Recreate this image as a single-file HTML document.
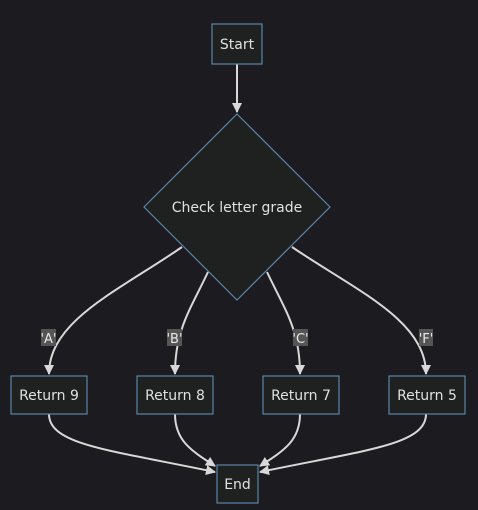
<!DOCTYPE html>
<html><head><style>
html,body{margin:0;padding:0;background:#1c1c20;}
svg{display:block;}
text{font-family:"DejaVu Sans","Liberation Sans",sans-serif;font-size:14px;fill:#e0e0e0;}
.n{fill:#1f2120;stroke:#5b84a8;stroke-width:1.2;}
.e{fill:none;stroke:#d8d8d8;stroke-width:2;}
.lb{fill:#555;}
.lt{font-size:13px;fill:#e8e8e8;}
</style></head><body>
<svg width="478" height="510" viewBox="0 0 478 510">
<defs><marker id="a" markerWidth="10" markerHeight="10" refX="9" refY="5" orient="auto" markerUnits="userSpaceOnUse"><path d="M0,0 L10,5 L0,10 z" fill="#d8d8d8"/></marker></defs>
<path class="e" d="M237,64 L237,112" marker-end="url(#a)"/>
<path class="e" d="M182,247 C120,290 49,320 49,374" marker-end="url(#a)"/>
<path class="e" d="M208,272 C190,310 175,330 175,374" marker-end="url(#a)"/>
<path class="e" d="M267,272 C285,310 300,330 300,374" marker-end="url(#a)"/>
<path class="e" d="M292,247 C355,290 426,320 426,374" marker-end="url(#a)"/>
<path class="e" d="M49,414 C49,445 110,450 215,472" marker-end="url(#a)"/>
<path class="e" d="M175,414 C175,440 190,450 215,466" marker-end="url(#a)"/>
<path class="e" d="M300,414 C300,440 285,450 260,466" marker-end="url(#a)"/>
<path class="e" d="M426,414 C426,445 365,450 260,472" marker-end="url(#a)"/>
<rect class="n" x="212" y="24" width="50" height="40"/>
<text x="237" y="49" text-anchor="middle">Start</text>
<polygon class="n" points="237,114 330,207 237,300 144,207"/>
<text x="237" y="212" text-anchor="middle">Check letter grade</text>
<rect class="lb" x="41" y="329" width="15" height="17"/><text class="lt" x="48.5" y="343" text-anchor="middle">'A'</text>
<rect class="lb" x="167" y="329" width="15" height="17"/><text class="lt" x="174.5" y="343" text-anchor="middle">'B'</text>
<rect class="lb" x="293" y="329" width="15" height="17"/><text class="lt" x="300.5" y="343" text-anchor="middle">'C'</text>
<rect class="lb" x="419" y="329" width="14" height="17"/><text class="lt" x="426" y="343" text-anchor="middle">'F'</text>
<rect class="n" x="11" y="376" width="76" height="38"/><text x="49" y="400" text-anchor="middle">Return 9</text>
<rect class="n" x="137" y="376" width="76" height="38"/><text x="175" y="400" text-anchor="middle">Return 8</text>
<rect class="n" x="263" y="376" width="76" height="38"/><text x="301" y="400" text-anchor="middle">Return 7</text>
<rect class="n" x="389" y="376" width="76" height="38"/><text x="427" y="400" text-anchor="middle">Return 5</text>
<rect class="n" x="217" y="465" width="41" height="38"/><text x="237.5" y="489" text-anchor="middle">End</text>
</svg>
</body></html>
